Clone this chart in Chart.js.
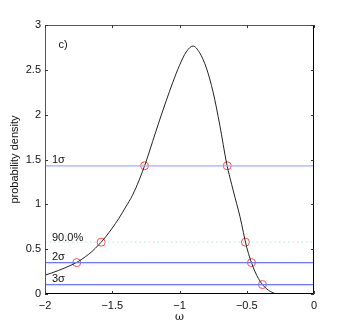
<!DOCTYPE html>
<html>
<head>
<meta charset="utf-8">
<script src="https://cdn.jsdelivr.net/npm/chart.js@4"></script>
<style>
  body { margin: 0; background: #fff; }
  #chart { display: block; }
</style>
</head>
<body>
<canvas id="chart" width="346" height="332"></canvas>
<script>
// curve
const omega = [-2.0, -1.95, -1.9, -1.85, -1.8, -1.75, -1.7, -1.65, -1.6, -1.55, -1.5, -1.45, -1.4, -1.35, -1.3, -1.25, -1.2, -1.15, -1.1, -1.05, -1.0, -0.95, -0.9, -0.85, -0.8, -0.75, -0.7, -0.65, -0.6, -0.55, -0.5, -0.45, -0.4, -0.35, -0.3, -0.28];
const density = [0.21, 0.235, 0.262, 0.293, 0.326, 0.365, 0.415, 0.475, 0.55, 0.635, 0.735, 0.845, 0.97, 1.10, 1.27, 1.47, 1.70, 1.93, 2.15, 2.36, 2.55, 2.70, 2.765, 2.69, 2.52, 2.25, 1.88, 1.46, 1.15, 0.86, 0.52, 0.29, 0.14, 0.055, 0.01, 0];

// confidence levels
const sigmaNames = ['1σ', '2σ', '3σ'];
const sigmaLevels = [1.43, 0.35, 0.105];
const sigmaColors = ['#a4a8ff', '#6e78ff', '#6e78ff'];
const level90 = 0.578;

// crossing markers
const crossX = [-1.26, -0.645, -1.583, -0.51, -1.764, -0.465, -0.383];
const crossY = [1.43, 1.43, 0.578, 0.578, 0.35, 0.35, 0.105];

const xTicks = [-2, -1.5, -1, -0.5, 0];
const yTicks = [0, 0.5, 1, 1.5, 2, 2.5, 3];

const datasets = [];
sigmaLevels.forEach((v, i) => {
  datasets.push({
    data: [{x: -2, y: v}, {x: 0, y: v}],
    showLine: true, borderColor: sigmaColors[i], borderWidth: 1.2, pointRadius: 0
  });
});
datasets.push({
  data: [{x: -2, y: level90}, {x: 0, y: level90}],
  showLine: true, borderColor: '#b8ece8', borderWidth: 1.2, borderDash: [1.5, 3], pointRadius: 0
});
datasets.push({
  data: omega.map((x, i) => ({x: x, y: density[i]})),
  showLine: true, borderColor: '#222', borderWidth: 1, pointRadius: 0,
  cubicInterpolationMode: 'monotone'
});
datasets.push({
  data: crossX.map((x, i) => ({x: x, y: crossY[i]})),
  showLine: false, pointRadius: 4, pointBorderWidth: 1,
  pointBackgroundColor: 'rgba(0,0,0,0)', pointBorderColor: '#ff4a4a'
});

const fmt = v => (v < 0 ? '\u2212' + String(-v) : String(v));

// box, inward ticks and text labels, MATLAB style
const boxPlugin = {
  id: 'box',
  afterDatasetsDraw(chart) {
    const {ctx, chartArea: a, scales: {x, y}} = chart;
    ctx.save();
    ctx.lineWidth = 1;
    ctx.strokeStyle = '#555';
    ctx.beginPath();
    ctx.moveTo(a.left + 0.5, a.bottom);
    ctx.lineTo(a.left + 0.5, a.top + 0.5);
    ctx.lineTo(a.right, a.top + 0.5);
    ctx.stroke();
    ctx.strokeStyle = '#000';
    ctx.beginPath();
    ctx.moveTo(a.right - 0.5, a.top);
    ctx.lineTo(a.right - 0.5, a.bottom - 0.5);
    ctx.lineTo(a.left, a.bottom - 0.5);
    ctx.stroke();
    ctx.strokeStyle = '#333';
    ctx.beginPath();
    xTicks.forEach(v => {
      const px = Math.round(x.getPixelForValue(v)) + 0.5;
      ctx.moveTo(px, a.bottom); ctx.lineTo(px, a.bottom - 3);
      ctx.moveTo(px, a.top); ctx.lineTo(px, a.top + 3);
    });
    yTicks.forEach(v => {
      const py = Math.round(y.getPixelForValue(v)) + 0.5;
      ctx.moveTo(a.left, py); ctx.lineTo(a.left + 3, py);
      ctx.moveTo(a.right, py); ctx.lineTo(a.right - 3, py);
    });
    ctx.stroke();

    ctx.fillStyle = '#111';
    ctx.font = '11px "Liberation Sans", Arial, sans-serif';
    ctx.textBaseline = 'alphabetic';
    ctx.textAlign = 'left';
    const lx = x.getPixelForValue(-1.948);
    sigmaLevels.forEach((v, i) => {
      ctx.fillText(sigmaNames[i], lx, y.getPixelForValue(v) - 2.5);
    });
    ctx.fillText('90.0%', lx, y.getPixelForValue(level90) - 1.5);
    ctx.fillText('c)', x.getPixelForValue(-1.9), y.getPixelForValue(2.74));
    ctx.restore();
  }
};

new Chart(document.getElementById('chart'), {
  type: 'scatter',
  data: {datasets: datasets},
  options: {
    responsive: false,
    animation: false,
    layout: {padding: {top: 25, right: 32, left: 8, bottom: 8}},
    plugins: {legend: {display: false}, tooltip: {enabled: false}},
    scales: {
      x: {
        type: 'linear', min: -2, max: 0,
        afterBuildTicks: s => { s.ticks = xTicks.map(v => ({value: v})); },
        afterFit: s => { s.height = 30; },
        grid: {display: false, drawTicks: false}, border: {display: false},
        ticks: {padding: 5, color: '#111', font: {family: 'Liberation Sans', size: 11}, callback: v => fmt(v), maxRotation: 0},
        title: {display: true, text: 'ω', color: '#111', padding: {top: 2, bottom: 0}, font: {family: 'DejaVu Serif', size: 11}}
      },
      y: {
        type: 'linear', min: 0, max: 3,
        afterBuildTicks: s => { s.ticks = yTicks.map(v => ({value: v})); },
        afterFit: s => { s.width = 37; },
        grid: {display: false, drawTicks: false}, border: {display: false},
        ticks: {padding: 4, color: '#111', font: {family: 'Liberation Sans', size: 11}, callback: v => fmt(v)},
        title: {display: true, text: 'probability density', color: '#111', padding: {top: 0, bottom: 0}, font: {family: 'Liberation Sans', size: 11}}
      }
    }
  },
  plugins: [boxPlugin]
});
</script>
</body>
</html>
